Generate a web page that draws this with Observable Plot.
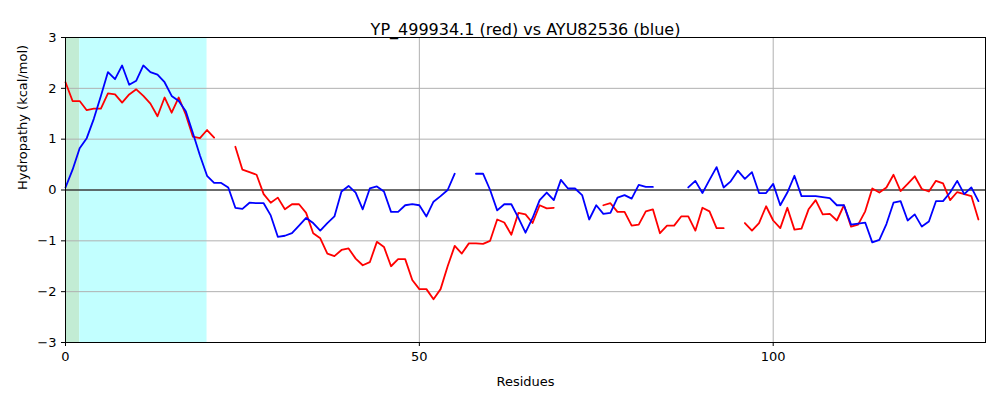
<!DOCTYPE html>
<html>
<head>
<meta charset="utf-8">
<script src="https://cdn.jsdelivr.net/npm/d3@7"></script>
<script src="https://cdn.jsdelivr.net/npm/@observablehq/plot@0.6"></script>
<style>
  body { margin: 0; background: #fff; }
</style>
</head>
<body>
<div id="chart"></div>
<script>
// hydropathy per residue, null = gap in the line
const redValues = [2.12, 1.75, 1.75, 1.57, 1.6, 1.6, 1.9, 1.88, 1.72, 1.88, 1.98, 1.85, 1.7, 1.45, 1.82, 1.52, 1.82, 1.48, 1.05, 1.02,
  1.18, 1.03, null, null, 0.85, 0.4, 0.35, 0.3, -0.08, -0.25, -0.15, -0.38, -0.28, -0.28, -0.45, -0.85, -0.95, -1.25, -1.3, -1.18,
  -1.15, -1.35, -1.48, -1.42, -1.02, -1.12, -1.5, -1.36, -1.36, -1.77, -1.95, -1.95, -2.15, -1.95, -1.5, -1.1, -1.25, -1.05, -1.05, -1.06,
  -1.0, -0.58, -0.64, -0.88, -0.45, -0.48, -0.65, -0.3, -0.36, -0.35, null, null, null, null, null, null, -0.3, -0.26, -0.43, -0.43,
  -0.7, -0.68, -0.42, -0.38, -0.85, -0.7, -0.7, -0.52, -0.52, -0.8, -0.35, -0.42, -0.75, -0.75, null, null, -0.65, -0.8, -0.65, -0.32,
  -0.6, -0.75, -0.35, -0.78, -0.76, -0.38, -0.2, -0.48, -0.47, -0.6, -0.3, -0.72, -0.68, -0.42, 0.03, -0.05, 0.05, 0.3, -0.02, 0.12,
  0.27, 0.02, -0.03, 0.18, 0.13, -0.2, -0.04, -0.08, -0.12, -0.58];
const blueValues = [0.05, 0.4, 0.82, 1.02, 1.4, 1.85, 2.32, 2.18, 2.45, 2.07, 2.15, 2.45, 2.32, 2.27, 2.12, 1.85, 1.75, 1.55, 1.12, 0.68,
  0.28, 0.14, 0.14, 0.05, -0.35, -0.37, -0.25, -0.26, -0.26, -0.5, -0.92, -0.9, -0.85, -0.7, -0.55, -0.65, -0.8, -0.65, -0.52, -0.03,
  0.08, -0.05, -0.38, 0.03, 0.07, -0.03, -0.43, -0.43, -0.3, -0.28, -0.3, -0.52, -0.23, -0.12, 0.0, 0.32, null, null, 0.32, 0.32,
  0.0, -0.4, -0.28, -0.28, -0.55, -0.84, -0.55, -0.2, -0.05, -0.2, 0.2, 0.03, 0.03, -0.1, -0.58, -0.3, -0.47, -0.45, -0.15, -0.1,
  -0.17, 0.1, 0.06, 0.06, null, null, null, null, 0.05, 0.18, -0.06, 0.2, 0.45, 0.05, 0.17, 0.38, 0.22, 0.35, -0.06, -0.06,
  0.12, -0.3, -0.05, 0.28, -0.12, -0.12, -0.12, -0.14, -0.16, -0.3, -0.3, -0.68, -0.66, -0.64, -1.03, -0.98, -0.67, -0.25, -0.22, -0.6,
  -0.48, -0.72, -0.62, -0.22, -0.22, -0.05, 0.18, -0.08, 0.05, -0.22];
const regions = [
  { x1: 0, x2: 2, fill: "#c2ecd4" },
  { x1: 2, x2: 20, fill: "#c2ffff" }
];
const xTicks = [0, 50, 100];
const yTicks = [-3, -2, -1, 0, 1, 2, 3];

const red = redValues.map((v, i) => ({ x: i, y: v }));
const blue = blueValues.map((v, i) => ({ x: i, y: v }));

const chart = Plot.plot({
  width: 1000,
  height: 400,
  marginLeft: 65,
  marginRight: 15,
  marginTop: 37,
  marginBottom: 58,
  style: { fontFamily: "DejaVu Sans", fontSize: "13px", color: "#000" },
  x: { domain: [0, 130], ticks: xTicks, label: null },
  y: { domain: [-3, 3], ticks: yTicks, label: null },
  marks: [
    Plot.rectY(regions, { x1: "x1", x2: "x2", y1: -3, y2: 3, fill: "fill" }),
    Plot.gridX(xTicks, { stroke: "#b0b0b0", strokeOpacity: 1 }),
    Plot.gridY(yTicks, { stroke: "#b0b0b0", strokeOpacity: 1 }),
    Plot.ruleY([0], { stroke: "#000", strokeWidth: 1 }),
    Plot.line(red, { x: "x", y: "y", stroke: "red", strokeWidth: 1.8, defined: d => d.y != null }),
    Plot.line(blue, { x: "x", y: "y", stroke: "blue", strokeWidth: 1.8, defined: d => d.y != null }),
    Plot.frame({ stroke: "#000" }),
    Plot.axisX(xTicks, { tickSize: 4, fontSize: 13, label: null, tickFormat: "d" }),
    Plot.axisY(yTicks, { tickSize: 4, fontSize: 13, label: null, tickFormat: "d" }),
    Plot.text(["YP_499934.1 (red) vs AYU82536 (blue)"], { frameAnchor: "top", dy: -14, fontSize: 16 }),
    Plot.text(["Residues"], { frameAnchor: "bottom", dy: 43, fontSize: 13 }),
    Plot.text(["Hydropathy (kcal/mol)"], { frameAnchor: "left", dx: -43, rotate: -90, fontSize: 13 })
  ]
});
document.getElementById("chart").append(chart);
</script>
</body>
</html>
